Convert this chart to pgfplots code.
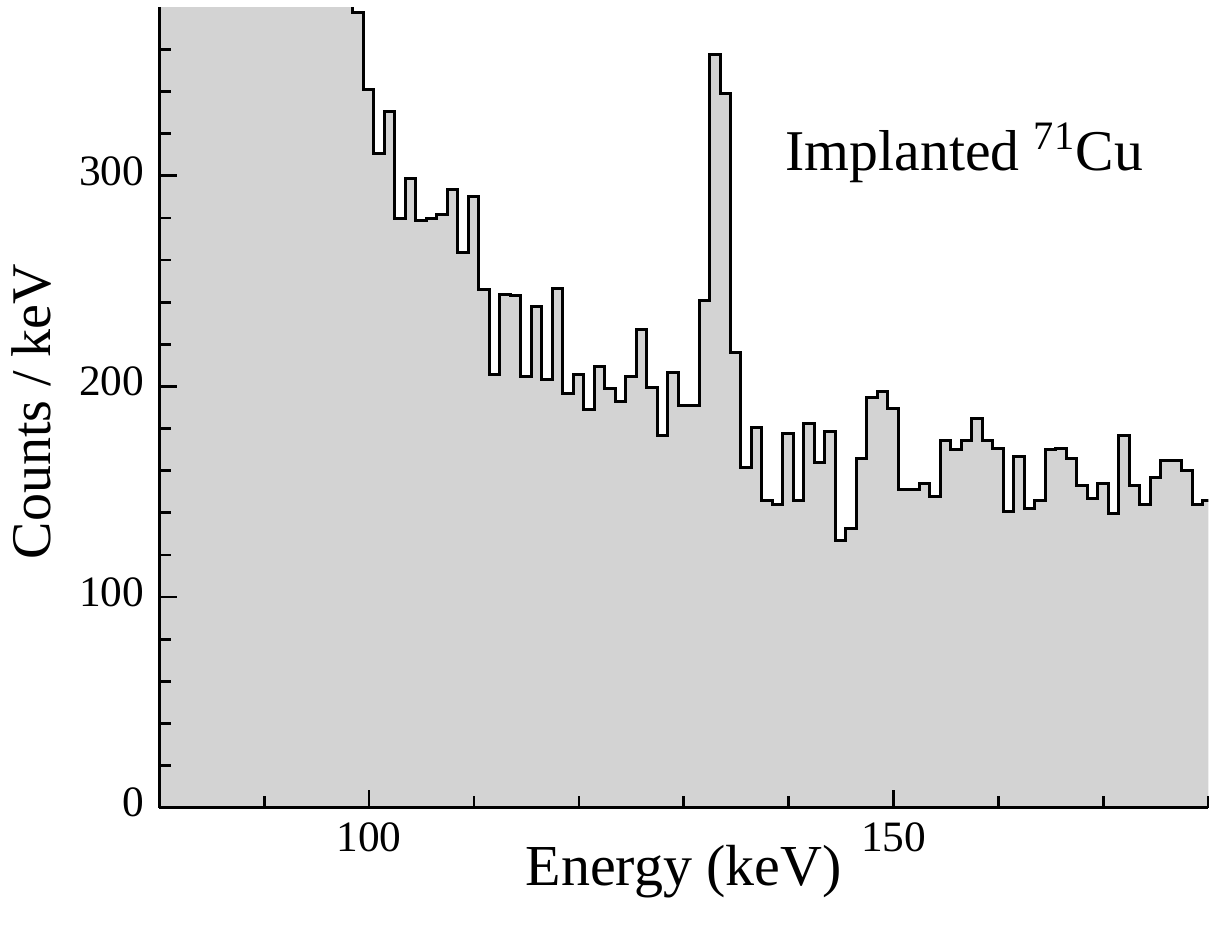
\documentclass[border=0pt]{standalone}
\usepackage{pgfplots}
\usepackage{pgfplotstable}
\pgfplotsset{compat=1.18}
\usepackage{fontspec}
\setmainfont{Liberation Serif}
\definecolor{histgray}{RGB}{211,211,211}

\pgfplotstableread{
x y
79.45 900
80.45 870
81.45 840
82.45 800
83.45 770
84.45 740
85.45 700
86.45 680
87.45 650
88.45 620
89.45 590
90.45 560
91.45 540
92.45 510
93.45 490
94.45 470
95.45 440
96.45 420
97.45 395
98.45 377.6
99.45 340.8
100.45 310.7
101.45 330.5
102.45 279.5
103.45 298.5
104.45 278.8
105.45 279.5
106.45 281.7
107.45 293.6
108.45 263.6
109.45 290.4
110.45 245.8
111.45 205.5
112.45 243.8
113.45 243.1
114.45 204.7
115.45 237.9
116.45 203.1
117.45 246.6
118.45 196.8
119.45 205.5
120.45 188.9
121.45 209.5
122.45 199.2
123.45 192.9
124.45 204.7
125.45 227.0
126.45 199.7
127.45 176.8
128.45 206.8
129.45 190.8
130.45 190.8
131.45 240.7
132.45 357.8
133.45 339.2
134.45 216.1
135.45 161.7
136.45 180.7
137.45 145.8
138.45 143.8
139.45 177.8
140.45 145.8
141.45 182.6
142.45 163.8
143.45 178.6
144.45 126.7
145.45 132.7
146.45 165.6
147.45 194.7
148.45 197.6
149.45 189.7
150.45 150.9
151.45 150.9
152.45 153.8
153.45 147.8
154.45 174.3
155.45 170.2
156.45 174.3
157.45 184.6
158.45 174.3
159.45 170.7
160.45 140.6
161.45 166.7
162.45 141.9
163.45 145.8
164.45 170.3
165.45 170.7
166.45 165.6
167.45 152.8
168.45 147.0
169.45 153.8
170.45 139.8
171.45 176.6
172.45 152.8
173.45 143.8
174.45 156.9
175.45 164.8
176.45 164.8
177.45 160.0
178.45 143.8
179.45 145.8
181.45 145.8
}\spectrum

\begin{document}
\begin{tikzpicture}
\useasboundingbox (-47.79pt,-36.09pt) rectangle (314.91pt,242.31pt);
\begin{axis}[
  at={(0pt,0pt)}, anchor=south west,
  scale only axis,
  width=314.7pt, height=240.12pt,
  xmin=80, xmax=180, ymin=0, ymax=380,
  axis lines*=left,
  axis on top,
  axis line style={line width=0.8pt, black},
  tick style={line width=0.8pt, black},
  tick align=inside,
  major tick length=5.3pt,
  minor tick length=3.6pt,
  xtick={100,150}, minor xtick={80,90,110,120,130,140,160,170,180},
  ytick={0,100,200,300}, minor ytick={20,40,60,80,120,140,160,180,220,240,260,280,320,340,360},
  /pgf/number format/assume math mode=true,
  ticklabel style={font=\fontsize{13}{13}\selectfont},
  xticklabel style={inner sep=0pt, anchor=north, yshift=-4.2pt},
  yticklabel style={inner sep=0pt, anchor=east, xshift=-4.3pt, yshift=1.5pt},
  xlabel={Energy (keV)},
  ylabel={Counts / keV},
  xlabel style={font=\fontsize{17.4}{17.4}\selectfont, inner sep=0pt, at={(axis description cs:0.5,-0.0966)}, anchor=base},
  ylabel style={font=\fontsize{16.8}{16.8}\selectfont, inner sep=0pt, at={(axis description cs:-0.1033,0.495)}, anchor=base},
]
\addplot[const plot, fill=histgray, draw=none] table[x=x,y=y] {\spectrum} \closedcycle;
\addplot[const plot, draw=black, line width=0.9pt] table[x=x,y=y] {\spectrum};
\node[anchor=base west, inner sep=0pt, font=\fontsize{17.3}{17.3}\selectfont] at (axis cs:139.65,302.7) {Implanted \textsuperscript{71}Cu};
\end{axis}
\end{tikzpicture}
\end{document}
